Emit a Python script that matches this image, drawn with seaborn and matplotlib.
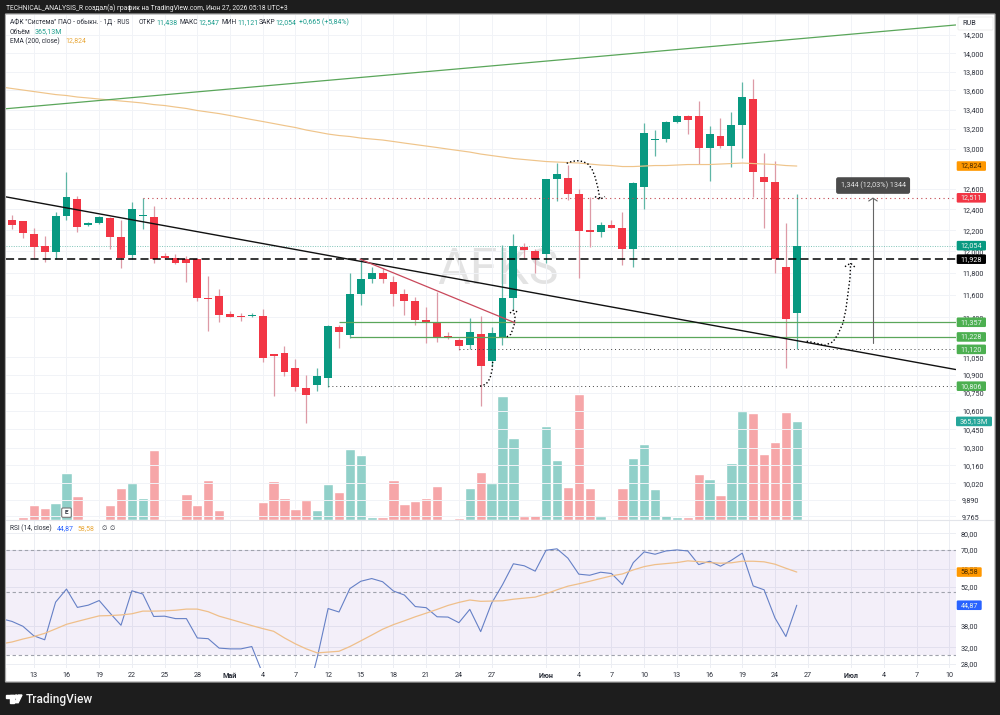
import numpy as np
import pandas as pd
import matplotlib
matplotlib.use("Agg")
import matplotlib.pyplot as plt
from matplotlib.patches import FancyBboxPatch, Rectangle, Circle, Polygon
from matplotlib.ticker import FixedLocator, FixedFormatter, NullLocator
from matplotlib.transforms import IdentityTransform
import seaborn as sns

sns.set_theme(style="white")
plt.rcParams["font.family"] = ["Roboto", "DejaVu Sans"]

# Daily OHLC for AFKS
opens = [12296,12286,12163,12053,11996,12337,12496,12248,12270,12312,12132,11968,12337,12328,11953,11938,11926,11926,11575,11593,
         11426,11411,11411,11411,11081,11087,10956,10792,10812,10876,11316,11243,11608,11747,11796,11717,11605,11548,11378,11355,
         11232,11200,11162,11255,11018,11229,11569,12043,12006,11978,12692,12702,12547,12198,12179,12251,12223,12019,12613,13083,
         13093,13270,13329,13329,13008,13127,13025,13236,13513,12714,12668,11852,11438]
highs = [12344,12286,12220,12147,12373,12767,12528,12280,12334,12328,12296,12467,12505,12431,11981,11975,11959,11938,11774,11650,
         11455,11435,11435,11479,11081,11150,11038,10899,10961,11331,11331,11796,11928,11854,11845,11772,11653,11584,11494,11623,
         11272,11223,11393,11414,11311,12059,12163,12075,12019,12695,12851,12834,12593,12521,12274,12296,12370,12665,13257,13191,
         13278,13340,13343,13489,13226,13309,13377,13690,13725,12954,12871,12270,12547]
lows = [12207,12128,11938,11903,11926,12296,12185,12242,12258,12022,11848,11928,12213,11894,11931,11879,11720,11548,11281,11358,
        11399,11364,11399,11007,10722,10893,10766,10505,10764,10800,11136,11223,11509,11710,11708,11503,11420,11337,11176,11185,
        11206,11113,11119,10639,10975,11156,11473,11938,11796,11894,12479,12489,11751,12038,12134,12217,11873,11852,12402,12927,
        13065,13263,13147,12847,12672,13002,12817,12904,12515,12220,11799,10961,11121]
closes = [12245,12169,12043,11994,12337,12518,12232,12267,12322,12134,11940,12405,12347,11931,11940,11891,11891,11575,11566,11422,
          11405,11405,11422,11046,11064,10924,10795,10736,10888,11322,11270,11608,11741,11796,11744,11605,11545,11375,11355,11229,
          11223,11150,11270,10973,11264,11575,12053,12012,11926,12692,12741,12544,12194,12185,12251,12223,12024,12652,13154,13096,
          13274,13333,13294,13008,13147,13028,13239,13531,12764,12665,11926,11382,12054]

# Volume in millions, one per bar
volumes = [3.7,9.9,55.5,43.2,61.7,172.8,88.9,4.9,4.9,55.5,119.7,138.2,81.5,258.0,3.7,4.9,97.5,56.8,148.1,37.0,
           3.7,1.2,3.7,65.4,145.6,80.2,42.0,74.1,37.0,134.5,104.9,264.1,240.7,9.9,9.9,146.9,59.2,71.6,80.2,124.7,
           3.7,8.6,117.3,179.0,137.0,459.2,303.6,13.6,19.7,349.3,223.4,121.0,466.6,117.3,13.6,4.9,117.3,228.3,280.2,116.0,
           17.3,9.9,9.9,170.3,150.6,93.8,211.1,403.6,397.4,244.4,290.1,398.7,365.13]

# Indicator series start one bar before the first candle
ema_200 = [13637,13621,13605,13589,13573,13557,13547,13531,13521,13510,13500,13489,13479,13468,13452,13442,13426,13411,13390,
           13374,13358,13338,13317,13296,13276,13255,13234,13214,13188,13168,13147,13132,13122,13106,13096,13086,13071,13055,13040,
           13025,13010,12994,12979,12964,12944,12929,12914,12899,12889,12879,12869,12864,12859,12854,12844,12834,12829,12819,12819,
           12824,12829,12829,12834,12839,12839,12839,12844,12849,12854,12849,12844,12839,12829,12824]
rsi_line = [40.3,39.4,37.9,35.1,34.0,46.0,51.1,44.1,44.9,46.6,42.1,38.2,50.4,49.1,41.0,41.1,40.3,40.3,34.5,34.3,31.8,31.6,31.6,
            32.2,25.9,24.0,22.8,21.9,21.0,29.4,43.7,42.5,51.3,54.4,55.6,54.2,50.3,48.7,44.4,44.0,40.9,40.8,39.0,43.4,36.3,45.6,52.9,
            62.6,61.6,59.0,69.8,70.6,65.5,57.6,57.1,58.5,57.9,53.0,63.2,68.9,67.6,69.4,70.0,69.4,62.2,63.9,61.4,64.4,68.2,52.4,50.8,
            40.5,34.9,44.87]
rsi_ma = [32.9,33.4,34.2,34.9,35.8,37.1,38.5,39.4,40.3,41.2,41.3,41.5,41.9,42.8,42.8,42.9,43.1,43.5,43.5,42.6,41.1,40.1,39.1,
          38.1,37.2,36.4,34.5,32.9,31.6,30.6,30.8,31.0,32.2,33.7,35.3,37.0,38.4,39.6,40.9,42.1,43.4,44.8,45.9,46.8,46.3,46.4,46.5,
          47.1,47.5,47.9,49.2,50.8,52.3,53.3,54.4,55.6,56.8,57.7,59.6,61.2,62.2,62.7,63.2,64.1,63.7,63.2,62.9,63.1,63.9,63.9,63.6,
          62.4,60.4,58.58]

# Drawn levels and trend lines (bar index, price)
trend_black = ([-0.6, 86.58], [12521, 10947])
trend_green = ([-0.6, 86.58], [13408, 14311])
trend_red = ([31.93, 46.15], [11928, 11352])
arrow_june = ([50.89,51.38,51.9,52.39,52.84,53.21,53.49,53.76,53.94], [12851,12871,12877,12869,12844,12794,12717,12606,12496])
arrow_june_head = ([53.49,53.94,54.4], [12523,12496,12523])
arrow_big = ([72.91,73.76,74.59,75.32,75.78,76.24,76.51,76.7,76.88,76.94], [11191,11174,11156,11185,11252,11349,11473,11617,11753,11891])
arrow_big_head = ([76.42,76.94,77.43], [11859,11891,11845])
arrow_small = ([45.39,45.78,46.06,46.15,45.99], [11229,11252,11331,11402,11464])
arrow_small_head = ([45.69,45.99,46.51], [11438,11464,11442])
arrow_low = ([42.94,43.49,43.85,44.04,44.1], [10806,10823,10871,10941,11012])

price_ticks = [14200,14000,13800,13600,13400,13200,13000,12600,12400,12200,12000,11800,11600,11400,11050,10900,10750,10600,10450,10300,10160,10020,9890,9765]
price_labels = ["14,200","14,000","13,800","13,600","13,400","13,200","13,000","12,600","12,400","12,200","12,000","11,800","11,600","11,400","11,050","10,900","10,750","10,600","10,450","10,300","10,160","10,020","9,890","9,765"]
rsi_ticks = [80,70,60,52,38,32,28]
rsi_labels = ["80,00","70,00","60,00","52,00","38,00","32,00","28,00"]
date_bars = [2,5,8,11,14,17,20,23,26,29,32,35,38,41,44,49,52,55,58,61,64,67,70,73,77,80,83,86]
date_labels = ["13","16","19","22","25","28","Май","4","7","12","15","18","21","24","27","Июн","4","7","10","13","16","19","24","27","Июл","4","7","10"]

GREEN, RED = "#089981", "#f23645"
W, H = 1000, 715
XLIM = (-0.596, 86.58)
INK = "#2a2e39"
SMALL = 5.2
LEGEND = 4.8

fig = plt.figure(figsize=(W / 100, H / 100), dpi=100, facecolor="#1d1d1d")


def panel(top, bottom):
    return fig.add_axes([5.5 / W, 1 - bottom / H, 950.2 / W, (bottom - top) / H])


def box(x0, y0, x1, y1, face, edge="none", lw=0, z=12, r=1.2):
    # rectangle given in pixels measured from the top-left corner
    patch = FancyBboxPatch((x0, H - y1), x1 - x0, y1 - y0, boxstyle=f"round,pad=0,rounding_size={r}",
                           facecolor=face, edgecolor=edge, linewidth=lw, transform=IdentityTransform(), zorder=z)
    fig.add_artist(patch)


def label(x, y, s, color=INK, size=SMALL, ha="left", z=13, **kw):
    fig.text(x / W, 1 - y / H, s, color=color, fontsize=size, ha=ha, va="center", zorder=z, **kw)


def tag(ax, value, s, face, ink="#e8f5ee", x0=956.7, x1=986):
    # value tag on the scale, placed at the level through the axes' own transform
    y = H - ax.transData.transform((0, value))[1]
    box(x0, y - 4.8, x1, y + 4.8, face)
    label((x0 + x1) / 2, y, s, color=ink, ha="center")


box(5.5, 14, 995, 682, "white", edge="#a9a9a9", lw=0.9, z=-1, r=0.5)

# Candle direction decides the colours of both body and volume bar
o, h, l, c = map(np.array, (opens, highs, lows, closes))
is_up = c >= o
bars = np.arange(len(opens))

# Volume pane sits under the candles
ax_vol = panel(14.5, 520)
ax_vol.set_facecolor("white")
vol_df = pd.DataFrame({"bar": bars, "vol": volumes, "dir": np.where(is_up, "g", "r")})
sns.barplot(data=vol_df, x="bar", y="vol", hue="dir", palette={"g": "#91d0c9", "r": "#f6a6a8"},
            native_scale=True, dodge=False, width=0.95, legend=False, saturation=1, ax=ax_vol)
ax_vol.set_xlim(*XLIM)
ax_vol.set_ylim(0, 1872)
ax_vol.set_xticks(date_bars)
ax_vol.set_yticks([])
ax_vol.grid(axis="x", color="#f1f3f7", lw=0.7)
ax_vol.set_axisbelow(True)
ax_vol.tick_params(labelbottom=False, length=0)
ax_vol.set(xlabel="", ylabel="")
sns.despine(ax=ax_vol, left=True, bottom=True)
ax_vol.text((498 - 5.5) / 950.2, (520 - 270) / 505.5, "AFKS", transform=ax_vol.transAxes, color="#e3e3e3",
            fontsize=36, ha="center", va="center", zorder=0.5)

# Price pane, logarithmic
ax = panel(14.5, 520)
ax.patch.set_alpha(0)
ax.set_yscale("log")
ax.set_xlim(*XLIM)
ax.set_ylim(9738, 14428)
ax.yaxis.tick_right()
ax.yaxis.set_major_locator(FixedLocator(price_ticks))
ax.yaxis.set_major_formatter(FixedFormatter(price_labels))
ax.yaxis.set_minor_locator(NullLocator())
ax.set_xticks([])
ax.tick_params(axis="y", length=0, pad=4.5, labelsize=SMALL, labelcolor=INK)
ax.grid(axis="y", color="#f1f3f7", lw=0.7)
ax.set_axisbelow(True)
sns.despine(ax=ax, left=True, bottom=True, right=True, top=True)

ax.vlines(bars[is_up], l[is_up], h[is_up], color="#5fb6a6", lw=0.9, zorder=3)
ax.vlines(bars[~is_up], l[~is_up], h[~is_up], color="#dd9aa6", lw=0.9, zorder=3)
ax.bar(bars, np.abs(c - o), bottom=np.minimum(o, c), width=0.72,
       color=[GREEN if u else RED for u in is_up], linewidth=0, zorder=4)

line_bars = np.arange(-1, 73)
sns.lineplot(x=line_bars, y=ema_200, color="#efc48a", lw=0.85, ax=ax, zorder=5)
ax.set(xlabel="", ylabel="")

# Horizontal levels
right = XLIM[1]
ax.hlines(12054, XLIM[0], right, color="#7fc4b8", lw=0.7, linestyles=(0, (1, 1.5)), zorder=2)
ax.hlines(11928, XLIM[0], right, color="black", lw=1.1, linestyles=(0, (5.3, 2.7)), zorder=5)
ax.hlines(12511, 12, right, color="#c2474f", lw=0.8, linestyles=(0, (1, 3)), zorder=5)
ax.hlines(11357, 30, right, color="#5aa65a", lw=0.9, zorder=5)
ax.hlines(11228, 31, right, color="#5aa65a", lw=0.9, zorder=5)
ax.hlines(11120, 41, right, color="#444444", lw=0.7, linestyles=(0, (1, 3)), zorder=5)
ax.hlines(10806, 29, right, color="#444444", lw=0.7, linestyles=(0, (1, 3)), zorder=5)

# Trend lines
ax.plot(*trend_black, color="#111111", lw=1.0, zorder=6)
ax.plot(*trend_green, color="#5aa65a", lw=0.9, zorder=6)
ax.plot(*trend_red, color="#c9485b", lw=0.9, zorder=6)

# Dotted projection arrows
dots = dict(color="black", lw=1.0, ls=(0, (1, 1.6)), zorder=7)
for path in (arrow_june, arrow_june_head, arrow_big, arrow_big_head, arrow_small, arrow_small_head, arrow_low):
    ax.plot(*path, **dots)

# Price range measure with its caption
ax.plot([78.99, 78.99], [11176, 12508], color="#666666", lw=0.8, zorder=7)
ax.plot([78.6, 78.99, 79.38], [12480, 12508, 12480], color="#666666", lw=0.8, zorder=7)
ax.text(79, 12631, "1,344 (12,03%) 1344", color="#e4e4e4", fontsize=SMALL, ha="center", va="center", zorder=8,
        bbox=dict(boxstyle="round,pad=0.62,rounding_size=0.3", facecolor="#4b4b4b", edgecolor="none"))

# RSI pane, logarithmic as well
ax_rsi = panel(520, 668)
ax_rsi.set_facecolor("white")
ax_rsi.set_yscale("log")
ax_rsi.axhspan(30, 70, color="#7e57c2", alpha=0.09, lw=0)
for level in (70, 50, 30):
    ax_rsi.axhline(level, color="#a0a3ad", lw=0.8, ls=(0, (3, 2.5)))
sns.lineplot(x=line_bars, y=rsi_line, color="#6580c6", lw=0.8, ax=ax_rsi)
sns.lineplot(x=line_bars, y=rsi_ma, color="#efbf8a", lw=0.9, ax=ax_rsi)
ax_rsi.set(xlabel="", ylabel="")
ax_rsi.set_xlim(*XLIM)
ax_rsi.set_ylim(27.1, 89)
ax_rsi.yaxis.tick_right()
ax_rsi.yaxis.set_major_locator(FixedLocator(rsi_ticks))
ax_rsi.yaxis.set_major_formatter(FixedFormatter(rsi_labels))
ax_rsi.yaxis.set_minor_locator(NullLocator())
ax_rsi.set_xticks(date_bars)
ax_rsi.set_xticklabels(date_labels)
ax_rsi.tick_params(length=0, labelsize=SMALL, labelcolor=INK)
ax_rsi.tick_params(axis="x", pad=3.2)
ax_rsi.tick_params(axis="y", pad=3.6)
for tl, txt in zip(ax_rsi.get_xticklabels(), date_labels):
    if txt.isalpha():
        tl.set_fontweight("bold")
ax_rsi.grid(color="#eceef3", lw=0.7)
ax_rsi.set_axisbelow(True)
sns.despine(ax=ax_rsi, left=True, bottom=True)

fig.add_artist(plt.Line2D([5.5 / W, 993 / W], [1 - 520 / H] * 2, color="#e3e5ea", lw=0.8, zorder=3))

# Scale tags
tag(ax, 12824, "12,824", "#ff9800", ink="#4a2c00")
tag(ax, 12511, "12,511", RED)
tag(ax, 12054, "12,054", GREEN)
tag(ax, 11928, "11,928", "#000000", ink="white")
tag(ax, 11357, "11,357", "#4caf50")
tag(ax, 11228, "11,228", "#4caf50")
tag(ax, 11120, "11,120", "#4caf50")
tag(ax, 10806, "10,806", "#4caf50")
tag(ax_vol, 365.13, "365,13M", "#26a69a", x0=956, x1=992)
tag(ax_rsi, 58.58, "58,58", "#ff9800", ink="#4a2c00", x1=981.7)
tag(ax_rsi, 44.87, "44,87", "#2962ff", x1=981.7)

box(958, 17, 993, 30, "white", edge="#eeeeee", lw=0.7, z=12)
label(962.7, 23.3, "RUB")

# Earnings marker on the volume pane
box(61.7, 508, 71.3, 517.3, "white", edge="#777777", lw=0.8, z=12)
label(66.5, 512.7, "E", ha="center", size=4.6, fontweight="bold")

# Legend rows
TEAL = "#1f9e8e"
label(10, 22.5, 'АФК "Система" ПАО - обыкн. · 1Д · RUS', size=LEGEND)
for x, s in ((138.3, "ОТКР"), (179.3, "МАКС"), (221.7, "МИН"), (258.3, "ЗАКР")):
    label(x, 22.5, s, size=LEGEND)
for x, s in ((156, "11,438"), (198, "12,547"), (237.3, "11,121"), (275, "12,054"), (299, "+0,665 (+5,84%)")):
    label(x, 22.5, s, color=TEAL, size=5.0)
label(10, 32, "Объём", size=LEGEND)
label(34.7, 32, "365,13M", color=TEAL, size=5.0)
label(10, 41, "EMA (200, close)", size=LEGEND)
label(65.3, 41, "12,824", color="#e9a93c", size=5.0)
label(10, 528.3, "RSI (14, close)", size=LEGEND)
label(57, 528.3, "44,87", color="#2962ff", size=5.0)
label(78, 528.3, "58,58", color="#e9a93c", size=5.0)
label(101, 528.3, "∅", size=4.4, family=["DejaVu Sans"])
label(109, 528.3, "∅", size=4.4, family=["DejaVu Sans"])

# Header and footer on the dark frame
label(5.5, 8.5, "TECHNICAL_ANALYSIS_R создал(а) график на TradingView.com, Июн 27, 2026 05:18 UTC+3",
      color="#f0f0f0", size=4.9)
label(26, 699, "TradingView", color="#f4f4f4", size=8.6, fontweight="medium")
tv = IdentityTransform()
fig.add_artist(Rectangle((6, H - 698), 8.3, 3, facecolor="white", transform=tv))
fig.add_artist(Rectangle((10.3, H - 702.7), 4, 7.7, facecolor="white", transform=tv))
fig.add_artist(Circle((16.3, H - 696.6), 1.6, facecolor="white", transform=tv))
fig.add_artist(Polygon([(18.5, H - 695), (22, H - 695), (18.2, H - 702.7), (14.7, H - 702.7)], facecolor="white", transform=tv))

fig.savefig("out.png", dpi=100, facecolor=fig.get_facecolor())
